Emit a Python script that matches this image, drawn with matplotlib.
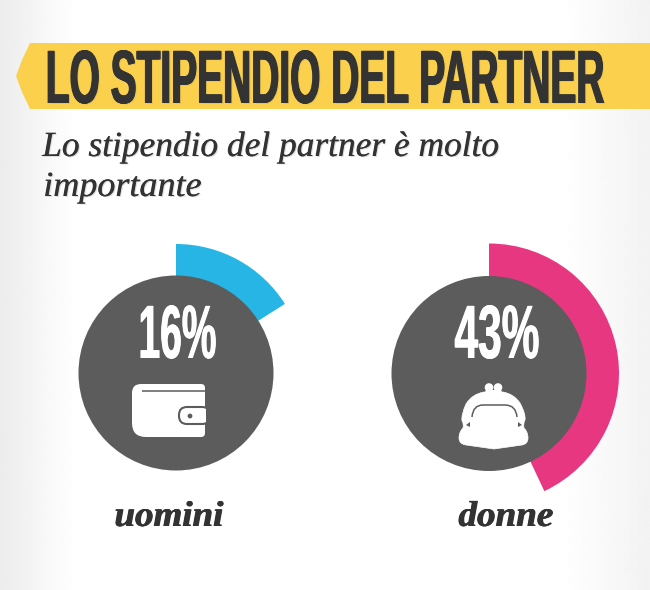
import numpy as np
import matplotlib
matplotlib.use("Agg")
import matplotlib.pyplot as plt
from matplotlib import patheffects as pe
from matplotlib.colors import to_rgb
from matplotlib.patches import Wedge, Circle, Polygon, FancyBboxPatch, PathPatch
from matplotlib.path import Path
from matplotlib.transforms import Affine2D

TITLE = "LO STIPENDIO DEL PARTNER"
SUBTITLE = ["Lo stipendio del partner è molto", "importante"]
GROUPS = ["uomini", "donne"]
VALUES = [16, 43]

RING_COLORS = ["#27B5E6", "#E73780"]
DISC = "#5C5C5C"
INK = "#333333"
YELLOW = "#FBD04D"
SANS = ["Liberation Sans", "DejaVu Sans"]
SERIF = ["Liberation Serif", "DejaVu Serif"]
FIG_H = 590


class Squeeze(pe.AbstractPathEffect):
    """Keeps the text real but rescales its glyphs around (x0, y0): no condensed fonts are installed."""

    def __init__(self, x0, y0, sx, sy=1.0, offset=(0, 0), color=None):
        super().__init__()
        self.x0, self.y0, self.sx, self.sy, self.off = x0, y0, sx, sy, offset
        self.color = to_rgb(color) if color else None

    def draw_path(self, renderer, gc, tpath, affine, rgbFace=None):
        sq = Affine2D().translate(-self.x0, -self.y0).scale(self.sx, self.sy).translate(self.x0, self.y0)
        sq = sq.translate(*self.off)
        renderer.draw_path(gc, tpath, affine + sq, self.color if self.color else rgbFace)


def fitted(ax, x, y, s, width, fat=0.0, sy=1.0, shadow=None, **kw):
    # allarga solo in orizzontale con copie sfalsate, per dare peso alle aste
    t = ax.text(x, y, s, ha="left", va="baseline", **kw)
    natural = t.get_window_extent(fig.canvas.get_renderer()).width
    sx = (width - fat) / natural
    y0 = FIG_H - y
    fx = []
    if shadow:
        fx.append(Squeeze(x, y0, sx, sy, offset=(fat + 1, -1), color=shadow))
    steps = int(np.ceil(fat / 0.5)) + 1
    for dx in np.linspace(0, fat, steps):
        fx.append(Squeeze(x, y0, sx, sy, offset=(dx, 0)))
    t.set_path_effects(fx)
    return t


fig = plt.figure(figsize=(6.5, 5.9), dpi=100)
ax = fig.add_axes([0, 0, 1, 1])
ax.set_xlim(0, 650)
ax.set_ylim(FIG_H, 0)
ax.axis("off")

# sfondo: bianco al centro, grigio chiaro sui lati
gx = np.arange(650)[None, :]
shade = np.clip((75 - gx) / 75, 0, 1) * 0.075 + np.clip((gx - 560) / 90, 0, 1) * 0.05
ax.imshow(1 - shade, cmap="gray", vmin=0, vmax=1, extent=(0, 650, FIG_H, 0),
          aspect="auto", zorder=0, interpolation="bilinear")

# banner
ax.add_patch(Polygon([(30, 43), (650, 43), (650, 109), (30, 109), (22, 92), (16, 76), (22, 60)],
                     closed=True, fc=YELLOW, ec="none", zorder=1))
fitted(ax, 45, 103, TITLE, 561, fat=1.5, sy=54.5 / 32, shadow="#EBC64A", color=INK, family=SANS,
       fontweight="bold", fontsize=32, zorder=3)

# sottotitolo
fitted(ax, 42, 156, SUBTITLE[0], 458, fat=0.5, shadow="#DDDDDD", color=INK, family=SERIF,
       style="italic", fontsize=25.5, zorder=3)
fitted(ax, 43, 196, SUBTITLE[1], 159, fat=0.5, shadow="#DDDDDD", color=INK, family=SERIF,
       style="italic", fontsize=25.5, zorder=3)

CENTERS = [(176, 373), (489, 373.5)]
OUTER = [129, 130]
PCT_X = [138, 454]
PCT_W = [79, 86]
LABEL_X = [114, 458]
LABEL_W = [110, 96]

for i, (group, value) in enumerate(zip(GROUPS, VALUES)):
    cx, cy = CENTERS[i]
    # y invertita: -90 è in alto e gli angoli crescono in senso orario
    ax.add_patch(Wedge((cx, cy), OUTER[i], -90, -90 + value * 3.6, fc=RING_COLORS[i], ec="none", zorder=2))
    ax.add_patch(Circle((cx, cy), 97.5, fc=DISC, ec="none", zorder=3))
    fitted(ax, PCT_X[i], 358, f"{value}%", PCT_W[i], fat=1, color="white", family=SANS,
           fontweight="bold", fontsize=54.5, zorder=4)
    fitted(ax, LABEL_X[i], 526, group, LABEL_W[i], fat=1, color=INK, family=SERIF,
           style="italic", fontweight="bold", fontsize=26, zorder=3)

# portafoglio
wallet = Path(
    [(141, 384), (201, 384), (205, 384), (205, 388), (205, 433), (205, 437), (201, 437),
     (146, 437), (132, 437), (132, 423), (132, 393), (132, 384), (141, 384), (141, 384)],
    [Path.MOVETO, Path.LINETO, Path.CURVE3, Path.CURVE3, Path.LINETO, Path.CURVE3, Path.CURVE3,
     Path.LINETO, Path.CURVE3, Path.CURVE3, Path.LINETO, Path.CURVE3, Path.CURVE3, Path.CLOSEPOLY])
ax.add_patch(PathPatch(wallet, fc="white", ec="none", zorder=4))
ax.plot([142, 205], [391, 391], color=DISC, lw=1.1, zorder=5, solid_capstyle="butt")
ax.add_patch(FancyBboxPatch((179, 407), 31, 17, boxstyle="round,pad=0,rounding_size=8",
                            fc="white", ec=DISC, lw=1.5, zorder=5))
ax.add_patch(Polygon([(206, 404), (212, 404), (212, 428), (206, 428)], fc=DISC, ec="none", zorder=6))
ax.add_patch(Circle((190, 416), 2.4, fc=DISC, ec="none", zorder=6))

# borsellino
purse_pts = [(484, 392), (472, 394), (466, 404), (461, 415), (462, 421), (464, 423),
             (463, 428), (459, 432), (459, 438), (459, 444), (466, 445), (480, 447),
             (494, 449), (508, 447), (522, 445), (528, 444), (528, 438), (528, 432),
             (524, 428), (523, 423), (525, 420), (526, 414), (520, 403), (514, 394),
             (503, 392), (484, 392)]
codes = [Path.MOVETO] + [Path.CURVE3] * 24 + [Path.CLOSEPOLY]
ax.add_patch(PathPatch(Path(purse_pts, codes), fc="white", ec="white", lw=0.5, zorder=4))
ax.add_patch(Circle((489, 387.5), 4.3, fc="white", ec="none", zorder=4))
ax.add_patch(Circle((498, 387.5), 4.3, fc="white", ec="none", zorder=4))
ax.add_patch(Polygon([(486, 390), (501, 390), (504, 396), (483, 396)], fc="white", ec="none", zorder=4))
ax.add_patch(PathPatch(Path([(472, 417), (473, 405), (483, 405), (505, 405), (516, 405), (517, 417)],
                            [Path.MOVETO, Path.CURVE3, Path.CURVE3, Path.LINETO, Path.CURVE3, Path.CURVE3]),
                       fc="none", ec=DISC, lw=1.1, zorder=5))
ax.add_patch(Polygon([(466, 425), (470, 422), (470, 427)], fc=DISC, ec="none", zorder=5))
ax.add_patch(Polygon([(522, 425), (518, 422), (518, 427)], fc=DISC, ec="none", zorder=5))

fig.savefig("out.png", dpi=100)
